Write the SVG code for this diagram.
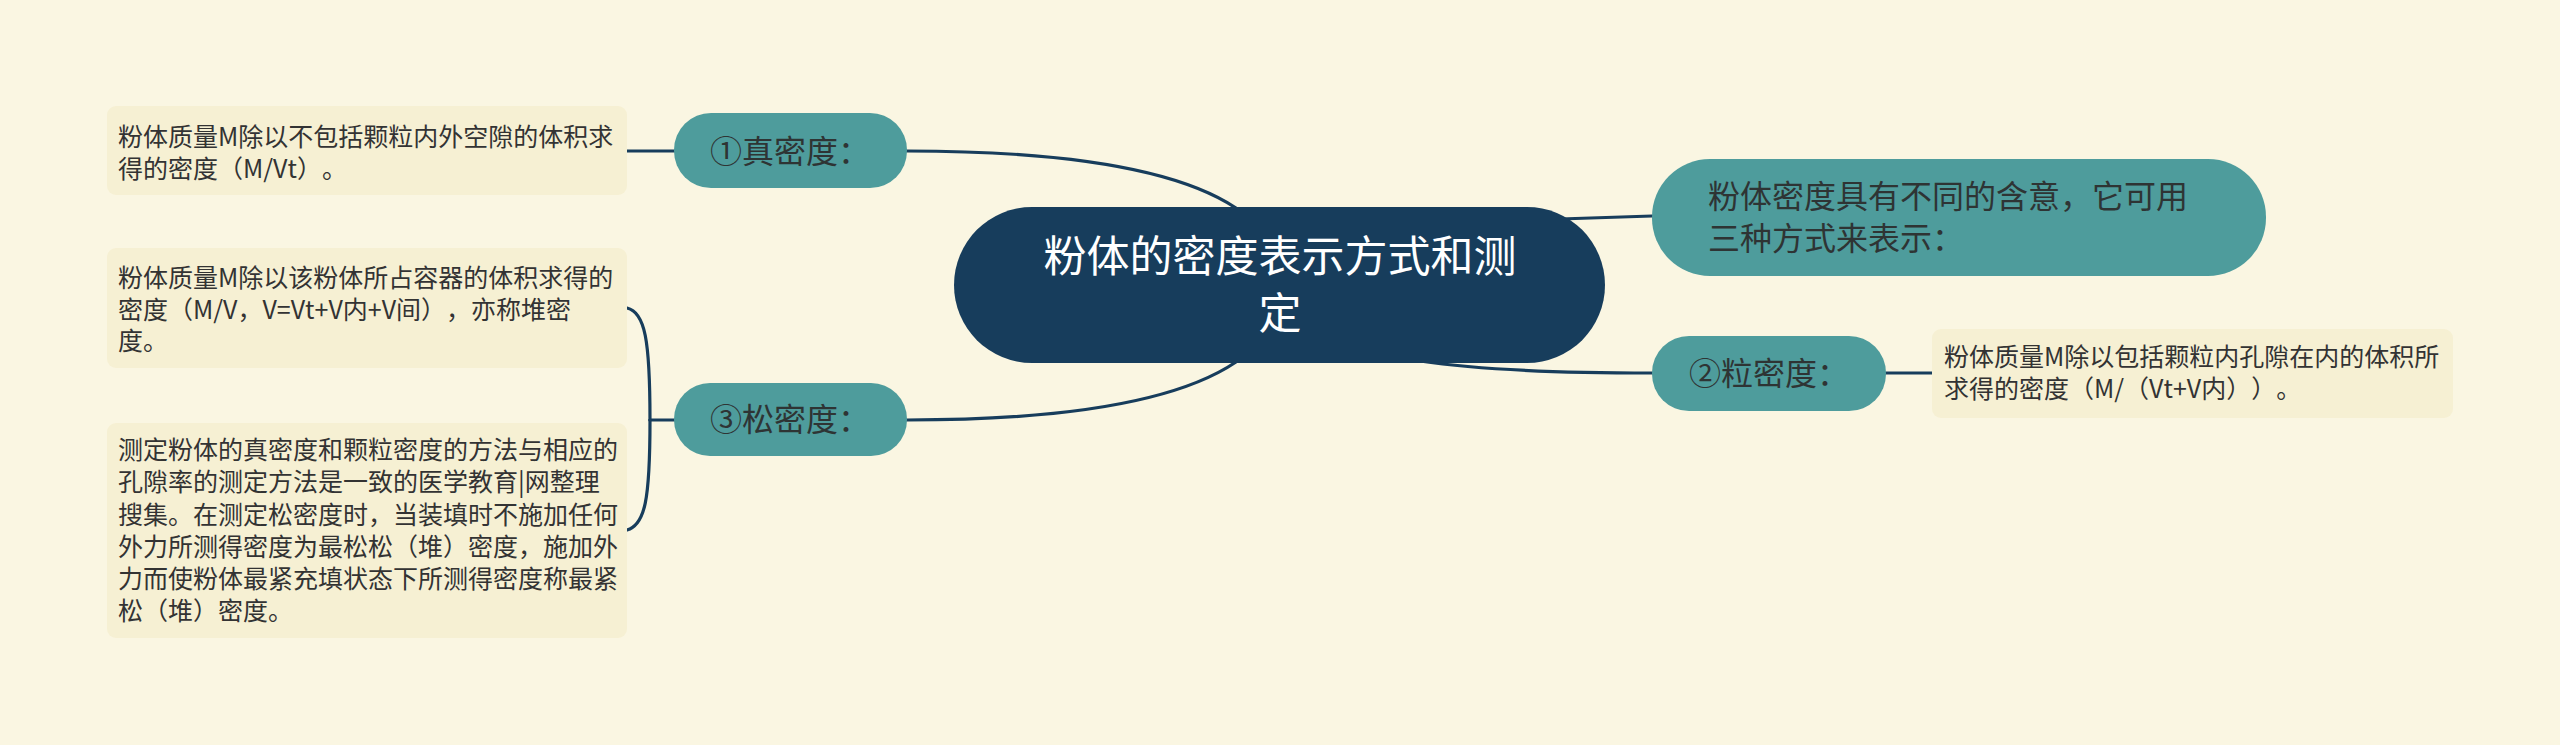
<svg xmlns="http://www.w3.org/2000/svg" width="2560" height="745" viewBox="0 0 2560 745">
<style>
.conn{fill:none;stroke:#173d5c;stroke-width:3.2;stroke-linecap:round}
.main{fill:#173d5c}
.topic{fill:#4e9c9c}
.leaf{fill:#f6f0d3}
.t{font-family:"Noto Sans CJK SC","Noto Sans",sans-serif;text-spacing-trim:space-all;font-feature-settings:"chws" 0,"halt" 0,"palt" 0}
.tm{font-size:43px;fill:#ffffff}
.tt{font-size:32px;fill:#2e3434}
.tl{font-size:25px;fill:#333333}
</style>
<rect x="0" y="0" width="2560" height="745" fill="#faf6e2"/>
<g id="connectors">
<path class="conn" d="M1236,208 Q1150,151 907,151"/>
<path class="conn" d="M1236,362 Q1150,420 907,420"/>
<path class="conn" d="M1560,219 L1652,216"/>
<path class="conn" d="M1420,361 Q1500,373 1652,373"/>
<path class="conn" d="M674,151 L627,151"/>
<path class="conn" d="M674,420 L650,420"/>
<path class="conn" d="M650,420 C650,340 645,312 627,308"/>
<path class="conn" d="M650,420 C650,500 645,525 627,530"/>
<path class="conn" d="M1886,373 L1932,373"/>
</g>
<g id="center">
<rect class="main" x="954" y="207" width="651" height="156" rx="78"/>
<text class="t tm" x="1280" y="272" text-anchor="middle">粉体的密度表示方式和测</text>
<text class="t tm" x="1280" y="329" text-anchor="middle">定</text>
</g>
<g id="node-meaning">
<rect class="topic" x="1652" y="159" width="614" height="117" rx="58"/>
<text class="t tt" x="1708" y="208">粉体密度具有不同的含意，它可用</text>
<text class="t tt" x="1708" y="250">三种方式来表示：</text>
</g>
<g id="node-particle">
<rect class="topic" x="1652" y="336" width="234" height="75" rx="37"/>
<text class="t tt" x="1689" y="385">②粒密度：</text>
</g>
<g id="leaf-particle">
<rect class="leaf" x="1932" y="329" width="521" height="89" rx="9"/>
<text class="t tl" x="1944" y="366">粉体质量M除以包括颗粒内孔隙在内的体积所</text>
<text class="t tl" x="1944" y="398">求得的密度（M/（Vt+V内））。</text>
</g>
<g id="node-true">
<rect class="topic" x="674" y="113" width="233" height="75" rx="37"/>
<text class="t tt" x="710" y="163">①真密度：</text>
</g>
<g id="leaf-true">
<rect class="leaf" x="107" y="106" width="520" height="89" rx="9"/>
<text class="t tl" x="118" y="146">粉体质量M除以不包括颗粒内外空隙的体积求</text>
<text class="t tl" x="118" y="178">得的密度（M/Vt）。</text>
</g>
<g id="node-bulk">
<rect class="topic" x="674" y="383" width="233" height="73" rx="36"/>
<text class="t tt" x="710" y="431">③松密度：</text>
</g>
<g id="leaf-bulk1">
<rect class="leaf" x="107" y="248" width="520" height="120" rx="9"/>
<text class="t tl" x="118" y="287">粉体质量M除以该粉体所占容器的体积求得的</text>
<text class="t tl" x="118" y="319">密度（M/V，V=Vt+V内+V间），亦称堆密</text>
<text class="t tl" x="118" y="350">度。</text>
</g>
<g id="leaf-bulk2">
<rect class="leaf" x="107" y="423" width="520" height="215" rx="9"/>
<text class="t tl" x="118" y="459">测定粉体的真密度和颗粒密度的方法与相应的</text>
<text class="t tl" x="118" y="491">孔隙率的测定方法是一致的医学教育|网整理</text>
<text class="t tl" x="118" y="524">搜集。在测定松密度时，当装填时不施加任何</text>
<text class="t tl" x="118" y="556">外力所测得密度为最松松（堆）密度，施加外</text>
<text class="t tl" x="118" y="588">力而使粉体最紧充填状态下所测得密度称最紧</text>
<text class="t tl" x="118" y="620">松（堆）密度。</text>
</g>
</svg>
